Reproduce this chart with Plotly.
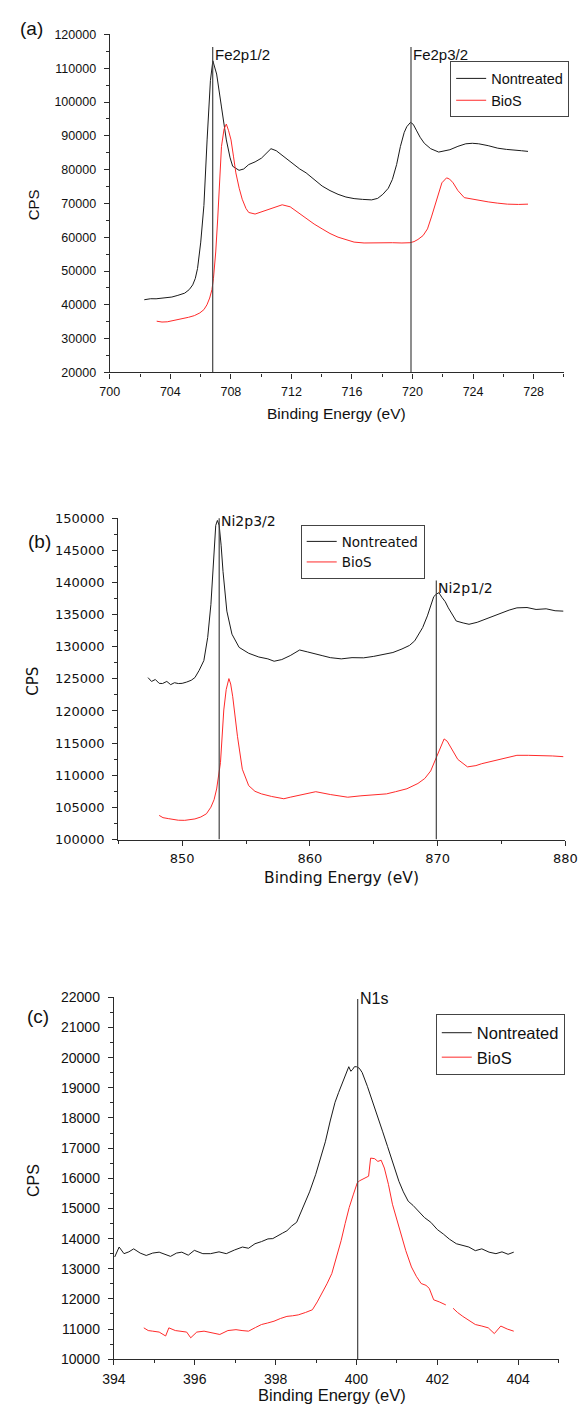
import plotly.graph_objects as go

# ---------------- data ----------------
# Panel (a): Fe 2p
fe_nontreated = [
    (702.28, 41500), (702.7, 41800), (703.06, 41780), (703.6, 41950), (704.1, 42300),
    (704.5, 42800), (704.95, 43450), (705.25, 44500), (705.48, 45900), (705.65, 47800),
    (705.8, 50770), (706.01, 58550), (706.22, 69400), (706.43, 88800), (706.65, 106400),
    (706.81, 112200), (707.06, 108300), (707.38, 98550), (707.7, 88800), (707.95, 83500),
    (708.12, 81000), (708.54, 79800), (708.85, 80200), (709.18, 81500), (709.6, 82300),
    (710.02, 83400), (710.35, 85000), (710.65, 86200), (711.0, 85600), (711.49, 83900),
    (711.92, 82150), (712.55, 80200), (712.97, 79050), (713.5, 77000), (714.03, 75150),
    (714.55, 73800), (715.08, 72700), (715.6, 71900), (716.14, 71430), (716.7, 71200),
    (717.3, 71050), (717.7, 71500), (718.04, 72700), (718.4, 74500), (718.67, 77100),
    (718.95, 81500), (719.2, 86850), (719.45, 91000), (719.62, 92700), (719.87, 94000),
    (720.05, 93400), (720.25, 91700), (720.5, 89600), (720.78, 87800), (721.2, 86200),
    (721.73, 85200), (722.1, 85500), (722.47, 85900), (723.0, 86900), (723.52, 87650),
    (723.95, 87800), (724.37, 87650), (725.0, 87100), (725.63, 86350), (726.2, 86000),
    (726.68, 85700), (727.2, 85600), (727.63, 85400),
]
fe_bios = [
    (703.1, 35150), (703.45, 34900), (703.8, 34970), (704.3, 35400), (704.75, 35850),
    (705.2, 36300), (705.59, 36800), (705.95, 37600), (706.22, 38570), (706.42, 40000),
    (706.6, 42000), (706.75, 44500), (706.85, 47850), (707.0, 55630), (707.13, 65400),
    (707.23, 75150), (707.38, 86850), (707.55, 92000), (707.7, 93500), (707.85, 91500),
    (708.01, 88800), (708.17, 84000), (708.33, 79050), (708.55, 74500), (708.75, 71250),
    (709.0, 68500), (709.18, 67330), (709.6, 66860), (710.0, 67500), (710.44, 68120),
    (710.9, 68800), (711.39, 69600), (711.92, 69000), (712.13, 68330), (712.55, 67000),
    (712.97, 65400), (713.5, 63900), (714.03, 62470), (714.55, 61100), (715.08, 60020),
    (715.6, 59200), (716.14, 58560), (716.8, 58300), (717.4, 58380), (718.0, 58250),
    (718.67, 58380), (719.3, 58300), (719.83, 58380), (720.1, 58700), (720.36, 59340),
    (720.7, 60500), (720.99, 62470), (721.25, 66000), (721.52, 70260), (721.75, 73500),
    (721.94, 76100), (722.25, 77570), (722.45, 77200), (722.68, 76100), (723.0, 73800),
    (723.42, 71720), (723.94, 71250), (724.5, 70900), (725.0, 70460), (725.6, 70100),
    (726.27, 69790), (727.0, 69700), (727.63, 69790),
]
# (label, position eV, top of marker line, label centre)
fe_peaks = [("Fe2p1/2", 706.8, 116300, 114000), ("Fe2p3/2", 719.9, 116300, 114000)]

# Panel (b): Ni 2p
ni_nontreated = [
    (847.33, 125190), (847.6, 124600), (847.9, 124900), (848.2, 124300), (848.46, 124270),
    (848.8, 124600), (849.1, 124100), (849.4, 124400), (849.7, 124270), (850.0, 124300),
    (850.35, 124500), (850.71, 124780), (851.0, 125200), (851.33, 126320), (851.7, 127850),
    (852.0, 131440), (852.25, 136570), (852.46, 142720), (852.63, 148880), (852.76, 149650),
    (852.9, 148880), (853.05, 145800), (853.2, 141700), (853.5, 135540), (853.9, 131950),
    (854.46, 129900), (855.21, 128980), (856.0, 128400), (856.71, 128110), (857.2, 127740),
    (857.8, 128000), (858.46, 128620), (859.2, 129490), (859.8, 129200), (860.3, 128900),
    (860.96, 128620), (861.6, 128300), (862.46, 128110), (863.3, 128300), (864.21, 128270),
    (865.0, 128500), (865.71, 128780), (866.5, 129100), (867.21, 129650), (867.8, 130200),
    (868.21, 130920), (868.83, 132980), (869.2, 134800), (869.46, 136570), (869.7, 137800),
    (869.91, 138200), (870.1, 138400), (870.33, 137700), (870.6, 137000), (870.84, 136050),
    (871.15, 135000), (871.46, 134000), (872.0, 133700), (872.46, 133490), (873.1, 133800),
    (873.71, 134260), (874.3, 134800), (874.96, 135280), (875.6, 135700), (876.21, 136050),
    (877.0, 136100), (877.71, 135800), (878.5, 135900), (879.2, 135600), (879.84, 135540),
]
ni_bios = [
    (848.2, 103750), (848.5, 103400), (848.95, 103240), (849.3, 103100), (849.7, 103000),
    (850.2, 102980), (850.6, 103100), (851.0, 103200), (851.46, 103500), (851.9, 104000),
    (852.25, 105030), (852.5, 106200), (852.7, 107860), (853.0, 111960), (853.26, 120160),
    (853.45, 123350), (853.66, 125040), (853.8, 124200), (853.96, 122210), (854.15, 119000),
    (854.33, 116060), (854.71, 110940), (855.21, 108380), (855.7, 107500), (856.21, 107100),
    (857.0, 106700), (857.96, 106340), (858.46, 106580), (859.4, 107000), (860.46, 107440),
    (861.6, 107000), (862.96, 106580), (864.0, 106800), (864.96, 106960), (866.0, 107100),
    (866.71, 107440), (867.6, 107900), (868.46, 108720), (869.0, 109500), (869.46, 110670),
    (869.96, 113100), (870.25, 114500), (870.51, 115650), (870.75, 115300), (870.96, 114620),
    (871.58, 112470), (872.34, 111300), (873.0, 111500), (873.46, 111800), (874.1, 112100),
    (874.71, 112470), (875.5, 112800), (876.21, 113100), (877.1, 113100), (877.96, 113100),
    (879.0, 113000), (879.84, 112890),
]
ni_peaks = [("Ni2p3/2", 852.9, 151000, 149500), ("Ni2p1/2", 869.9, 140300, 139200)]

# Panel (c): N 1s
n_nontreated = [
    (394.02, 13390), (394.13, 13720), (394.25, 13500), (394.37, 13560), (394.49, 13660),
    (394.65, 13520), (394.8, 13440), (394.96, 13520), (395.12, 13550), (395.28, 13480),
    (395.4, 13410), (395.55, 13520), (395.68, 13550), (395.84, 13450), (395.99, 13610),
    (396.2, 13500), (396.39, 13500), (396.6, 13560), (396.78, 13500), (396.98, 13620),
    (397.18, 13720), (397.33, 13680), (397.49, 13830), (397.65, 13900), (397.81, 13990),
    (397.93, 14000), (398.05, 14100), (398.17, 14180), (398.28, 14260), (398.4, 14420),
    (398.52, 14540), (398.68, 15030), (398.84, 15550), (398.99, 16120), (399.11, 16650),
    (399.23, 17210), (399.35, 17900), (399.47, 18520), (399.56, 18850), (399.66, 19180),
    (399.74, 19500), (399.81, 19700), (399.86, 19550), (399.9, 19600), (399.95, 19700),
    (400.0, 19700), (400.07, 19650), (400.14, 19510), (400.27, 19050), (400.41, 18520),
    (400.53, 18050), (400.65, 17540), (400.77, 17050), (400.89, 16560), (400.97, 16200),
    (401.05, 15900), (401.16, 15550), (401.28, 15240), (401.4, 15100), (401.52, 14920),
    (401.68, 14700), (401.84, 14540), (402.0, 14300), (402.15, 14150), (402.3, 13980),
    (402.47, 13830), (402.62, 13780), (402.78, 13720), (402.94, 13600), (403.1, 13660),
    (403.28, 13550), (403.45, 13500), (403.6, 13560), (403.75, 13480), (403.89, 13550),
]
n_bios = [
    (394.74, 11040), (394.85, 10950), (394.96, 10930), (395.12, 10900), (395.28, 10770),
    (395.36, 11040), (395.52, 10950), (395.68, 10930), (395.8, 10900), (395.9, 10710),
    (396.05, 10900), (396.23, 10930), (396.42, 10870), (396.62, 10820), (396.82, 10950),
    (397.02, 10980), (397.17, 10950), (397.33, 10930), (397.5, 11050), (397.65, 11150),
    (397.8, 11200), (397.96, 11260), (398.12, 11350), (398.28, 11420), (398.42, 11440),
    (398.56, 11470), (398.74, 11550), (398.91, 11640), (399.03, 11900), (399.15, 12190),
    (399.27, 12500), (399.39, 12840), (399.5, 13350), (399.62, 13930), (399.72, 14500),
    (399.82, 15030), (399.92, 15450), (400.02, 15850), (400.08, 15920), (400.14, 15960),
    (400.22, 16000), (400.3, 16070), (400.35, 16670), (400.45, 16650), (400.53, 16560),
    (400.61, 16600), (400.69, 16340), (400.79, 15800), (400.89, 15140), (400.99, 14650),
    (401.09, 14150), (401.22, 13600), (401.36, 13060), (401.48, 12750), (401.6, 12510),
    (401.72, 12450), (401.8, 12350), (401.91, 11970), (402.05, 11900), (402.21, 11800),
    (None, None),
    (402.39, 11690), (402.5, 11550), (402.63, 11420), (402.78, 11280), (402.94, 11150),
    (403.1, 11100), (403.26, 11040), (403.41, 10850), (403.57, 11100), (403.73, 11000),
    (403.89, 10930),
]
n_peaks = [("N1s", 400.03, 21950, 21950)]

series_names = ["Nontreated", "BioS"]
series_colors = ["#1a1a1a", "#ff2a2a"]

# ---------------- layout helpers ----------------
# The page keeps the browser's default 8px body margin, so the figure is
# sized to fit the 588x1419 window exactly inside it.
PAGE_W, PAGE_H, OFF = 588, 1419, 8
W, H = PAGE_W - 2 * OFF, PAGE_H - 2 * OFF


def fx(px):
    return (px - OFF) / W


def fy(py):
    return 1 - (py - OFF) / H


ARIAL = "Arial, Liberation Sans, sans-serif"
DEJAVU = "DejaVu Sans, sans-serif"
AXC = "#2b2b2b"


def xaxis(rng, dtick, tick0, mdtick, dom, anchor, font):
    return dict(range=rng, domain=dom, anchor=anchor, showline=True, linecolor=AXC,
                linewidth=1.3, ticks="outside", ticklen=5, tickwidth=1.2, tickcolor=AXC,
                tick0=tick0, dtick=dtick, showgrid=False, zeroline=False,
                tickfont=font, tickformat="d", ticklabelstandoff=2,
                ticklabeloverflow="allow",
                minor=dict(ticks="outside", ticklen=3, tickwidth=1.2, tickcolor=AXC,
                           dtick=mdtick, tick0=tick0, showgrid=False))


def yaxis(rng, dtick, mdtick, dom, anchor, font):
    return dict(range=rng, domain=dom, anchor=anchor, showline=True, linecolor=AXC,
                linewidth=1.3, ticks="outside", ticklen=5, tickwidth=1.2, tickcolor=AXC,
                tick0=rng[0], dtick=dtick, showgrid=False, zeroline=False,
                tickfont=font, tickformat="d", ticklabelstandoff=5,
                ticklabeloverflow="allow",
                minor=dict(ticks="outside", ticklen=3, tickwidth=1.2, tickcolor=AXC,
                           dtick=mdtick, tick0=rng[0], showgrid=False))


fig = go.Figure()

panels = [
    dict(xa="x", ya="y", legend="legend", data=[fe_nontreated, fe_bios],
         peaks=fe_peaks, ymin=20000, font=ARIAL, labsize=15),
    dict(xa="x2", ya="y2", legend="legend2", data=[ni_nontreated, ni_bios],
         peaks=ni_peaks, ymin=100000, font=DEJAVU, labsize=14),
    dict(xa="x3", ya="y3", legend="legend3", data=[n_nontreated, n_bios],
         peaks=n_peaks, ymin=10000, font=ARIAL, labsize=16),
]

annotations = []
for p in panels:
    for name, color, pts in zip(series_names, series_colors, p["data"]):
        fig.add_trace(go.Scatter(
            x=[e for e, _ in pts], y=[v for _, v in pts], mode="lines", name=name,
            line=dict(color=color, width=1), xaxis=p["xa"], yaxis=p["ya"],
            legend=p["legend"], connectgaps=False, hoverinfo="skip"))
    for label, e, top, ylab in p["peaks"]:
        fig.add_trace(go.Scatter(
            x=[e, e], y=[p["ymin"], top], mode="lines", showlegend=False,
            line=dict(color="#444444", width=1.2), xaxis=p["xa"], yaxis=p["ya"],
            hoverinfo="skip"))
        annotations.append(dict(
            x=e, y=ylab, xref=p["xa"], yref=p["ya"], text=label, showarrow=False,
            xanchor="left", yanchor="middle", xshift=0, borderpad=1,
            font=dict(family=p["font"], size=p["labsize"], color="#111")))

# panel letters, axis titles (positions in page pixels)
for txt, x, y in [("(a)", 20, 21), ("(b)", 28, 540), ("(c)", 27, 1020)]:
    annotations.append(dict(text=txt, x=fx(x), y=fy(y), xref="paper", yref="paper",
                            showarrow=False, xanchor="center", yanchor="middle",
                            font=dict(family=ARIAL, size=19, color="#111")))
for x, y, fam, size in [(22, 199, ARIAL, 15), (22, 681, DEJAVU, 15), (22, 1186, ARIAL, 16)]:
    annotations.append(dict(text="CPS", x=fx(x), y=fy(y), xref="paper", yref="paper",
                            showarrow=False, textangle=-90, xanchor="center",
                            yanchor="middle", font=dict(family=fam, size=size, color="#111")))
for x, y, fam, size in [(338, 410, ARIAL, 15.5), (344, 880, DEJAVU, 15.5), (334, 1403, ARIAL, 16.5)]:
    annotations.append(dict(text="Binding Energy (eV)", x=fx(x), y=fy(y), xref="paper",
                            yref="paper", showarrow=False, xanchor="center",
                            yanchor="middle", font=dict(family=fam, size=size, color="#111")))

leg_common = dict(bordercolor="#444", borderwidth=1, bgcolor="white",
                  xanchor="left", yanchor="top", tracegroupgap=0, itemwidth=30)

fig.update_layout(
    width=W, height=H, margin=dict(l=0, r=0, t=0, b=0, pad=0),
    paper_bgcolor="white", plot_bgcolor="white", hovermode=False,
    xaxis=xaxis([700, 730], 4, 700, 2, [fx(101.7), fx(575.7)], "y",
                dict(family=ARIAL, size=12.5, color="#111")),
    yaxis=yaxis([20000, 120000], 10000, 5000, [fy(368.5), fy(26.7)], "x",
                dict(family=ARIAL, size=12.5, color="#111")),
    xaxis2=xaxis([845, 880], 10, 850, 5, [fx(110.6), fx(577.2)], "y2",
                 dict(family=DEJAVU, size=13, color="#111")),
    yaxis2=yaxis([100000, 150000], 5000, 2500, [fy(841), fy(516)], "x2",
                 dict(family=DEJAVU, size=13, color="#111")),
    xaxis3=xaxis([394, 405], 2, 394, 1, [fx(106), fx(570.2)], "y3",
                 dict(family=ARIAL, size=14, color="#111")),
    yaxis3=yaxis([10000, 22000], 1000, 500, [fy(1366.7), fy(1000.7)], "x3",
                 dict(family=ARIAL, size=14, color="#111")),
    legend=dict(x=fx(457), y=fy(54), font=dict(family=ARIAL, size=14.5, color="#111"),
                **leg_common),
    legend2=dict(x=fx(301), y=fy(523), font=dict(family=DEJAVU, size=13.5, color="#111"),
                 **leg_common),
    legend3=dict(x=fx(442), y=fy(1018), font=dict(family=ARIAL, size=16.5, color="#111"),
                 **leg_common),
    annotations=annotations,
    showlegend=True,
)

fig.write_html("out.html", config={"displayModeBar": False})
